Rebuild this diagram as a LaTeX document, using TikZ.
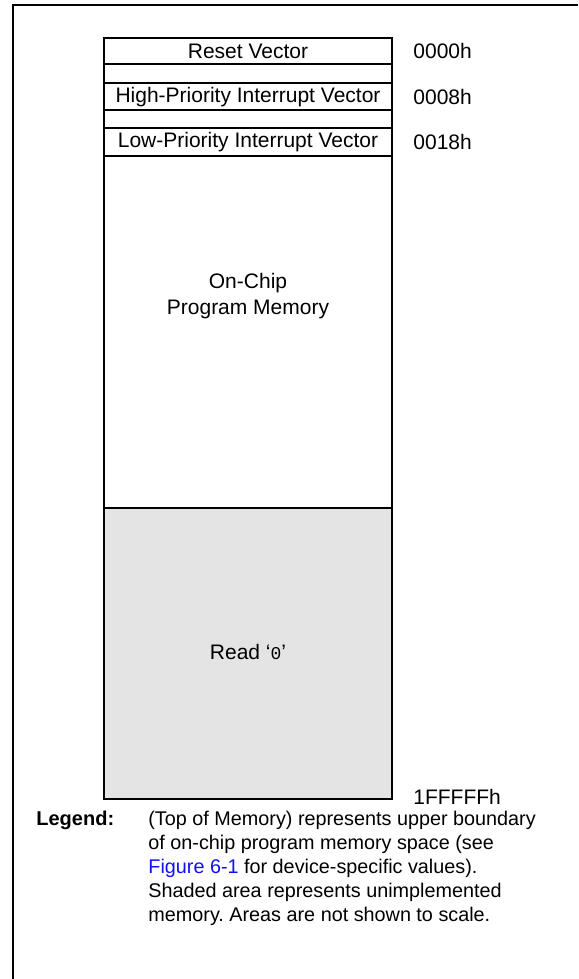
\documentclass[tikz,border=0pt]{standalone}
\usepackage{fontspec}
\setmainfont{Liberation Sans}
\newfontfamily\zeromono{Liberation Mono}
\definecolor{shadegray}{HTML}{E4E4E4}
\definecolor{linkblue}{HTML}{1010F0}
\frenchspacing
\begin{document}
\begin{tikzpicture}[x=0.5pt,y=-0.5pt,
  font=\fontsize{10.5}{12.6}\selectfont,
  frameline/.style={line width=1pt},
  thinline/.style={line width=0.6pt},
  lbl/.style={inner sep=0pt},
  addr/.style={inner sep=0pt,anchor=west}]
\useasboundingbox (0,0) rectangle (578,979);
% outer frame (left and top)
\draw[frameline] (13,979) -- (13,5) -- (578,5);
% memory column
\coordinate (mtl) at (104,38);
\coordinate (mbr) at (392,799);
\fill[shadegray] (104,508) rectangle (mbr);
\draw[thinline] (104,64) -- (392,64);
\draw[thinline] (104,83) -- (392,83);
\draw[thinline] (104,110) -- (392,110);
\draw[thinline] (104,128) -- (392,128);
\draw[thinline] (104,156) -- (392,156);
\draw[frameline] (104,508) -- (392,508);
\draw[frameline] (mtl) rectangle (mbr);
% labels in the column
\node[lbl] (reset) at (248,51) {Reset Vector};
\node[lbl] (high) at (248,97) {High-Priority Interrupt Vector};
\node[lbl] (low) at (248,142) {Low-Priority Interrupt Vector};
\node[lbl, align=center] (prog) at (248,296) {On-Chip\\Program Memory};
\node[lbl] (read) at (248,652) {Read `{\zeromono\fontsize{9}{10}\selectfont 0}'};
% addresses
\node[addr] (a0) at (413,51) {0000h};
\node[addr] (a8) at (413,97) {0008h};
\node[addr] (a18) at (413,142) {0018h};
\node[addr] (atop) at (413,797) {1FFFFFh};
% legend
\node[lbl, anchor=base west, font=\fontsize{10}{12}\selectfont\bfseries] (legend) at (36,825) {Legend:};
\node[lbl, anchor=base west, align=left, font=\fontsize{9.9}{12}\selectfont] (legtext) at (148,921)
  {(Top of Memory) represents upper boundary\\
   of on-chip program memory space (see\\
   \textcolor{linkblue}{Figure 6-1} for device-specific values).\\
   Shaded area represents unimplemented\\
   memory. Areas are not shown to scale.};
\end{tikzpicture}
\end{document}
